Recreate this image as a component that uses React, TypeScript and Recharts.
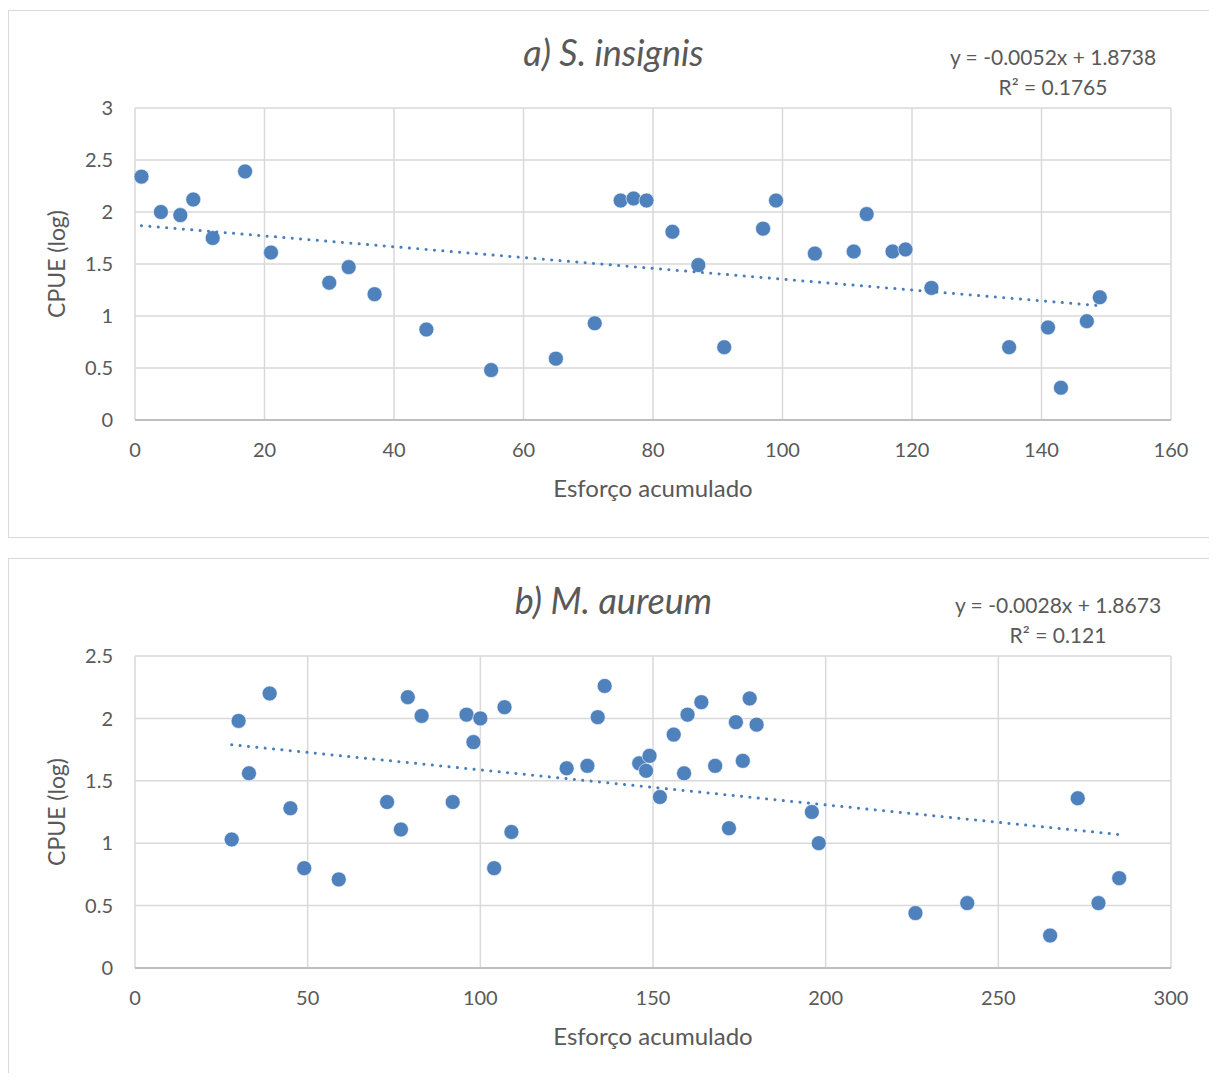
import React from "react";
import {
  ScatterChart, Scatter, XAxis, YAxis, CartesianGrid,
} from "recharts";

// a) S. insignis
const esforcoA = [1, 4, 7, 9, 12, 17, 21, 30, 33, 37, 45, 55, 65, 71, 75, 77, 79, 83, 87, 91, 97, 99, 105, 111, 113, 117, 119, 123, 135, 141, 143, 147, 149];
const cpueA = [2.34, 2.0, 1.97, 2.12, 1.75, 2.39, 1.61, 1.32, 1.47, 1.21, 0.87, 0.48, 0.59, 0.93, 2.11, 2.13, 2.11, 1.81, 1.49, 0.7, 1.84, 2.11, 1.6, 1.62, 1.98, 1.62, 1.64, 1.27, 0.7, 0.89, 0.31, 0.95, 1.18];
const xTicksA = [0, 20, 40, 60, 80, 100, 120, 140, 160];
const yTicksA = [0, 0.5, 1, 1.5, 2, 2.5, 3];
const slopeA = -0.0052;
const interceptA = 1.8738;

// b) M. aureum
const esforcoB = [28, 30, 33, 39, 45, 49, 59, 73, 77, 79, 83, 92, 96, 98, 100, 104, 107, 109, 125, 131, 134, 136, 146, 148, 149, 152, 156, 159, 160, 164, 168, 172, 174, 176, 178, 180, 196, 198, 226, 241, 265, 273, 279, 285];
const cpueB = [1.03, 1.98, 1.56, 2.2, 1.28, 0.8, 0.71, 1.33, 1.11, 2.17, 2.02, 1.33, 2.03, 1.81, 2.0, 0.8, 2.09, 1.09, 1.6, 1.62, 2.01, 2.26, 1.64, 1.58, 1.7, 1.37, 1.87, 1.56, 2.03, 2.13, 1.62, 1.12, 1.97, 1.66, 2.16, 1.95, 1.25, 1.0, 0.44, 0.52, 0.26, 1.36, 0.52, 0.72];
const xTicksB = [0, 50, 100, 150, 200, 250, 300];
const yTicksB = [0, 0.5, 1, 1.5, 2, 2.5];
const slopeB = -0.0028;
const interceptB = 1.8673;

const BLUE = "#4f81bd";
const TEXT = "#595959";
const FONT = "Lato, 'Open Sans', sans-serif";

const toPoints = (xs: number[], ys: number[]) => xs.map((x, i) => ({ x, y: ys[i] }));

const trendLine = (xs: number[], slope: number, intercept: number) => {
  const lo = Math.min(...xs);
  const hi = Math.max(...xs);
  return [lo, hi].map((x) => ({ x, y: slope * x + intercept }));
};

const Dot = (props: any) => (
  <circle cx={props.cx} cy={props.cy} r={7.5} fill={BLUE} stroke="#fff" strokeWidth={0.6} />
);

type PanelProps = {
  top: number;
  title: string;
  eq: string;
  r2: string;
  eqCenter: number;
  points: { x: number; y: number }[];
  trend: { x: number; y: number }[];
  xTicks: number[];
  yTicks: number[];
};

function Panel({ top, title, eq, r2, eqCenter, points, trend, xTicks, yTicks }: PanelProps) {
  const xMax = xTicks[xTicks.length - 1];
  const yMax = yTicks[yTicks.length - 1];
  return (
    <div style={{
      position: "absolute", left: 0, top, width: 1220, height: 526,
      border: "1px solid #d9d9d9", background: "#fff", fontFamily: FONT,
    }}>
      <div style={{
        position: "absolute", left: 0, width: 1209, top: 19, textAlign: "center",
        fontSize: 36, fontStyle: "italic", color: TEXT,
      }}>
        {title}
      </div>
      <div style={{
        position: "absolute", left: eqCenter - 9 - 150, width: 300, top: 31, textAlign: "center",
        fontSize: 21, lineHeight: "30px", color: TEXT,
      }}>
        <div>{eq}</div>
        <div>{r2}</div>
      </div>
      <ScatterChart width={1207} height={526} margin={{ top: 97, right: 45, bottom: 0, left: 0 }}>
        <CartesianGrid stroke="#d9d9d9" strokeWidth={1.5} />
        <XAxis
          type="number" dataKey="x" domain={[0, xMax]} ticks={xTicks}
          tickLine={false} tickSize={0} tickMargin={23} height={117}
          axisLine={{ stroke: "#bfbfbf", strokeWidth: 2 }}
          tick={{ fill: TEXT, fontSize: 20, fontFamily: FONT }}
          label={{ value: "Esforço acumulado", position: "insideBottom", offset: 40, fill: TEXT, fontSize: 24, fontFamily: FONT }}
        />
        <YAxis
          type="number" dataKey="y" domain={[0, yMax]} ticks={yTicks}
          tickLine={false} tickSize={0} tickMargin={22} width={126} axisLine={false}
          tick={{ fill: TEXT, fontSize: 20, fontFamily: FONT }}
          label={{ value: "CPUE (log)", angle: -90, position: "insideLeft", offset: 48, fill: TEXT, fontSize: 23, fontFamily: FONT, style: { textAnchor: "middle" } }}
        />
        <Scatter data={points} shape={Dot} isAnimationActive={false} />
        <Scatter
          data={trend} shape={() => null} isAnimationActive={false}
          line={{ stroke: "#4a7ebb", strokeWidth: 3, strokeDasharray: "0.1 8.3", strokeLinecap: "round" }}
        />
      </ScatterChart>
    </div>
  );
}

export default function App() {
  return (
    <div style={{ position: "relative", width: 1209, height: 1065, overflow: "hidden" }}>
      <Panel
        top={2}
        title="a) S. insignis"
        eq="y = -0.0052x + 1.8738"
        r2="R² = 0.1765"
        eqCenter={1053}
        points={toPoints(esforcoA, cpueA)}
        trend={trendLine(esforcoA, slopeA, interceptA)}
        xTicks={xTicksA}
        yTicks={yTicksA}
      />
      <Panel
        top={550}
        title="b) M. aureum"
        eq="y = -0.0028x + 1.8673"
        r2="R² = 0.121"
        eqCenter={1058}
        points={toPoints(esforcoB, cpueB)}
        trend={trendLine(esforcoB, slopeB, interceptB)}
        xTicks={xTicksB}
        yTicks={yTicksB}
      />
    </div>
  );
}
